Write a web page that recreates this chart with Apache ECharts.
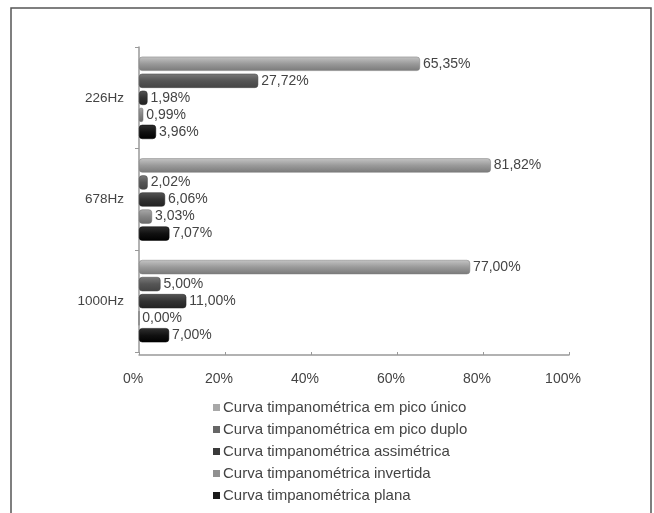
<!DOCTYPE html>
<html>
<head>
<meta charset="utf-8">
<script src="https://cdn.jsdelivr.net/npm/echarts@6/dist/echarts.min.js"></script>
<style>html,body{margin:0;padding:0;background:#fff}#c{width:654px;height:513px}</style>
</head>
<body>
<div id="c"></div>
<script>
const categories = ['226Hz', '678Hz', '1000Hz'];
const seriesNames = [
  'Curva timpanométrica em pico único',
  'Curva timpanométrica em pico duplo',
  'Curva timpanométrica assimétrica',
  'Curva timpanométrica invertida',
  'Curva timpanométrica plana'
];
const picoUnico = [65.35, 81.82, 77.00];
const picoDuplo = [27.72, 2.02, 5.00];
const assimetrica = [1.98, 6.06, 11.00];
const invertida = [0.99, 3.03, 0.00];
const plana = [3.96, 7.07, 7.00];
const xTicks = [0, 20, 40, 60, 80, 100];

const values = [picoUnico, picoDuplo, assimetrica, invertida, plana];
const colors = [
  ['#c4c4c4', '#9a9a9a', '#7a7a7a'],
  ['#7a7a7a', '#555555', '#444444'],
  ['#555555', '#333333', '#222222'],
  ['#a8a8a8', '#858585', '#6a6a6a'],
  ['#303030', '#111111', '#000000']
];
const legendColors = ['#a8a8a8', '#666666', '#3a3a3a', '#909090', '#1a1a1a'];

const chart = echarts.init(document.getElementById('c'));
chart.setOption({
  animation: false,
  backgroundColor: '#fff',
  graphic: [{
    type: 'rect',
    shape: { x: 11, y: 8, width: 640, height: 540 },
    style: { fill: 'none', stroke: '#555', lineWidth: 1.5 },
    silent: true
  }],
  legend: {
    orient: 'vertical',
    left: 213,
    top: 400,
    padding: 0,
    itemWidth: 7,
    itemHeight: 7,
    itemGap: 7,
    icon: 'rect',
    itemStyle: { borderWidth: 0 },
    textStyle: { fontFamily: 'Liberation Sans', fontSize: 15, color: '#444', padding: [0, 0, 0, -2] },
    data: seriesNames.map((n, i) => ({ name: n, itemStyle: { color: legendColors[i], borderWidth: 0 } }))
  },
  grid: { left: 139, width: 430, top: 47, height: 305 },
  xAxis: {
    type: 'value',
    min: 0, max: 100, interval: 20,
    offset: 3,
    axisLine: { show: true, lineStyle: { color: '#999', width: 1.5 } },
    axisTick: { show: true, length: 3, inside: true, lineStyle: { color: '#999' } },
    splitLine: { show: false },
    axisLabel: {
      formatter: v => xTicks.includes(v) ? v + '%' : '',
      fontFamily: 'Liberation Sans', fontSize: 14, color: '#444',
      margin: 17, padding: [0, 12, 0, 0]
    }
  },
  yAxis: {
    type: 'category',
    data: categories,
    inverse: true,
    offset: 6,
    axisLine: { show: true, lineStyle: { color: '#999', width: 1.5 } },
    axisTick: { show: true, length: 4, lineStyle: { color: '#999' } },
    axisLabel: { fontFamily: 'Liberation Sans', fontSize: 13.5, color: '#444', margin: 9 }
  },
  series: values.map((d, i) => ({
    name: seriesNames[i],
    type: 'bar',
    data: d,
    barCategoryGap: '19%',
    barGap: '20%',
    itemStyle: {
      color: new echarts.graphic.LinearGradient(0, 0, 0, 1, [
        { offset: 0, color: colors[i][0] },
        { offset: 0.5, color: colors[i][1] },
        { offset: 1, color: colors[i][2] }
      ]),
      borderRadius: 3,
      borderColor: colors[i][2],
      borderWidth: 0.5
    },
    label: {
      show: true,
      position: 'right',
      distance: 3,
      fontFamily: 'Liberation Sans', fontSize: 14, color: '#444',
      formatter: p => p.value.toFixed(2).replace('.', ',') + '%'
    }
  }))
});
</script>
</body>
</html>
